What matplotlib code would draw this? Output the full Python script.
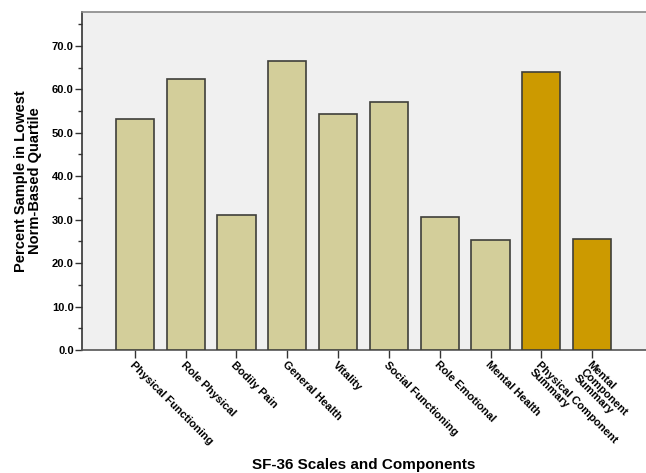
import matplotlib
matplotlib.use("Agg")
import matplotlib.pyplot as plt
from matplotlib.ticker import MultipleLocator, FormatStrFormatter

categories = [
    "Physical Functioning", "Role Physical", "Bodily Pain", "General Health",
    "Vitality", "Social Functioning", "Role Emotional", "Mental Health",
    "Physical Component\nSummary", "Mental\nComponent\nSummary",
]
values = [53.1, 62.4, 31.1, 66.5, 54.3, 57.0, 30.5, 25.3, 63.9, 25.5]
is_summary = [False] * 8 + [True] * 2

scale_color = "#D3CE9A"
summary_color = "#CC9A00"

plt.rcParams["font.family"] = ["Liberation Sans", "DejaVu Sans"]

fig = plt.figure(figsize=(6.46, 4.73), dpi=100)
ax = fig.add_axes([82 / 646, 123 / 473, 564 / 646, 338 / 473])
ax.set_facecolor("#F0F0F0")

x = list(range(len(categories)))
colors = [summary_color if s else scale_color for s in is_summary]
ax.bar(x, values, width=0.75, color=colors, edgecolor="#3F3F3A", linewidth=1.2, zorder=3)

ax.set_xlim(-1.04, 10.06)
ax.set_ylim(0, 77.8)

ax.yaxis.set_major_locator(MultipleLocator(10))
ax.yaxis.set_minor_locator(MultipleLocator(5))
ax.yaxis.set_major_formatter(FormatStrFormatter("%.1f"))
ax.tick_params(axis="y", which="major", length=5, width=1, color="#333333",
               labelsize=8, pad=1)
ax.tick_params(axis="y", which="minor", length=3, width=1, color="#333333")
for lbl in ax.get_yticklabels():
    lbl.set_fontweight("bold")

ax.set_xticks(x)
ax.set_xticklabels(categories, rotation=-45, ha="left", va="top",
                   rotation_mode="anchor", fontsize=8, fontweight="bold",
                   linespacing=0.95)
ax.tick_params(axis="x", length=6, width=1, color="#333333", pad=1)

ax.spines["right"].set_visible(False)
ax.spines["top"].set_color("#888888")
ax.spines["left"].set_color("#333333")
ax.spines["bottom"].set_color("#555555")
for s in ("top", "left", "bottom"):
    ax.spines[s].set_linewidth(1.2)

ax.set_ylabel("Percent Sample in Lowest\nNorm-Based Quartile", fontsize=10.5,
              fontweight="bold", linespacing=1.0, labelpad=7)
fig.text((82 + 646) / 2 / 646, 1 - 465 / 473, "SF-36 Scales and Components",
         ha="center", va="center", fontsize=11, fontweight="bold")

fig.savefig("out.png", dpi=100)
